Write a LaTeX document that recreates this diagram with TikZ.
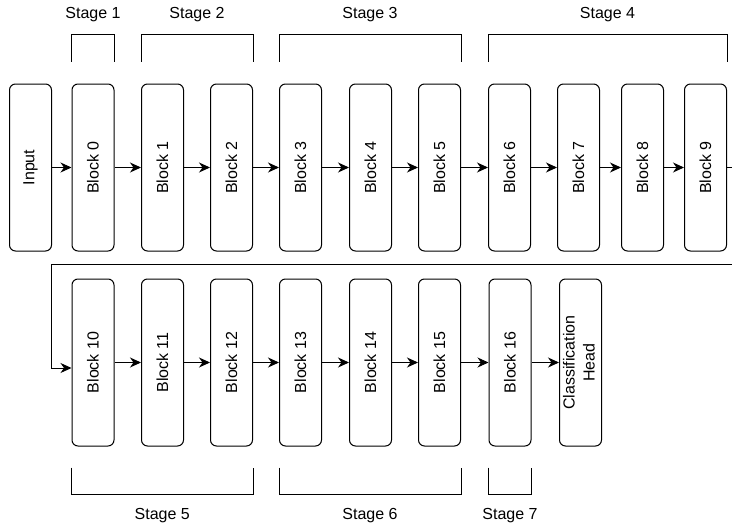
\documentclass[tikz,border=0pt]{standalone}
\usepackage{fontspec}
\setmainfont{Liberation Sans}
\usepackage{graphicx}
\usetikzlibrary{arrows.meta, positioning}

% bracket over / under a group of blocks
\newcommand{\stageabove}[3]{%
  \draw[bracket] ([yshift=22pt]#1.north west) -- ([yshift=49pt]#1.north west)
    -- node[stagelbl, yshift=20pt]{#3} ([yshift=49pt]#2.north east) -- ([yshift=22pt]#2.north east);}
\newcommand{\stagebelow}[3]{%
  \draw[bracket] ([yshift=-21pt]#1.south west) -- ([yshift=-48pt]#1.south west)
    -- node[stagelbl, yshift=-21pt]{#3} ([yshift=-48pt]#2.south east) -- ([yshift=-21pt]#2.south east);}

\begin{document}
\begin{tikzpicture}[
    x=1pt, y=-1pt,
    block/.style={rectangle, draw, rounded corners=6pt, minimum width=42pt,
                  minimum height=167pt, inner sep=0pt, line width=1pt,
                  font=\fontsize{16}{20}\selectfont, align=center},
    arr/.style={-{Stealth[length=11pt, width=10pt, inset=3.5pt]}, line width=1pt},
    bracket/.style={line width=1pt},
    stagelbl/.style={font=\fontsize{16}{19}\selectfont, inner sep=0pt}
]
\useasboundingbox (0,0) rectangle (732,525);
\clip (0,0) rectangle (732,525);

% first row
\node[block] (in)  at (30.5,167.5)  {\rotatebox{90}{Input}};
\node[block] (b0)  at (93,167.5)    {\rotatebox{90}{Block 0}};
\node[block] (b1)  at (162.5,167.5) {\rotatebox{90}{Block 1}};
\node[block] (b2)  at (231.5,167.5) {\rotatebox{90}{Block 2}};
\node[block] (b3)  at (300.5,167.5) {\rotatebox{90}{Block 3}};
\node[block] (b4)  at (370.5,167.5) {\rotatebox{90}{Block 4}};
\node[block] (b5)  at (439.5,167.5) {\rotatebox{90}{Block 5}};
\node[block] (b6)  at (509.5,167.5) {\rotatebox{90}{Block 6}};
\node[block] (b7)  at (578.5,167.5) {\rotatebox{90}{Block 7}};
\node[block] (b8)  at (642.5,167.5) {\rotatebox{90}{Block 8}};
\node[block] (b9)  at (705.5,167.5) {\rotatebox{90}{Block 9}};

% second row
\node[block] (b10) at (93,362.5)    {\rotatebox{90}{Block 10}};
\node[block] (b11) at (162.5,362.5) {\rotatebox{90}{Block 11}};
\node[block] (b12) at (231.5,362.5) {\rotatebox{90}{Block 12}};
\node[block] (b13) at (300.5,362.5) {\rotatebox{90}{Block 13}};
\node[block] (b14) at (370.5,362.5) {\rotatebox{90}{Block 14}};
\node[block] (b15) at (439.5,362.5) {\rotatebox{90}{Block 15}};
\node[block] (b16) at (510,362.5)   {\rotatebox{90}{Block 16}};
\node[block] (head) at (580.5,362.5) {\rotatebox{90}{\begin{tabular}{@{}c@{}}Classification\\Head\end{tabular}}};

\draw[arr] (in) -- (b0);
\draw[arr] (b0) -- (b1);
\draw[arr] (b1) -- (b2);
\draw[arr] (b2) -- (b3);
\draw[arr] (b3) -- (b4);
\draw[arr] (b4) -- (b5);
\draw[arr] (b5) -- (b6);
\draw[arr] (b6) -- (b7);
\draw[arr] (b7) -- (b8);
\draw[arr] (b8) -- (b9);

% wrap to second row
\coordinate (wrapR) at (745,264.5);
\coordinate (wrapL) at (51,264.5);
\draw[arr] (b9.east) -| (wrapR) -- (wrapL) |- ([yshift=-5.5pt]b10.west);

\draw[arr] (b10) -- (b11);
\draw[arr] (b11) -- (b12);
\draw[arr] (b12) -- (b13);
\draw[arr] (b13) -- (b14);
\draw[arr] (b14) -- (b15);
\draw[arr] (b15) -- (b16);
\draw[arr] (b16) -- (head);

% stages
\stageabove{b0}{b0}{Stage 1}
\stageabove{b1}{b2}{Stage 2}
\stageabove{b3}{b5}{Stage 3}
\stageabove{b6}{b9}{Stage 4}
\stagebelow{b10}{b12}{Stage 5}
\stagebelow{b13}{b15}{Stage 6}
\stagebelow{b16}{b16}{Stage 7}
\end{tikzpicture}
\end{document}
